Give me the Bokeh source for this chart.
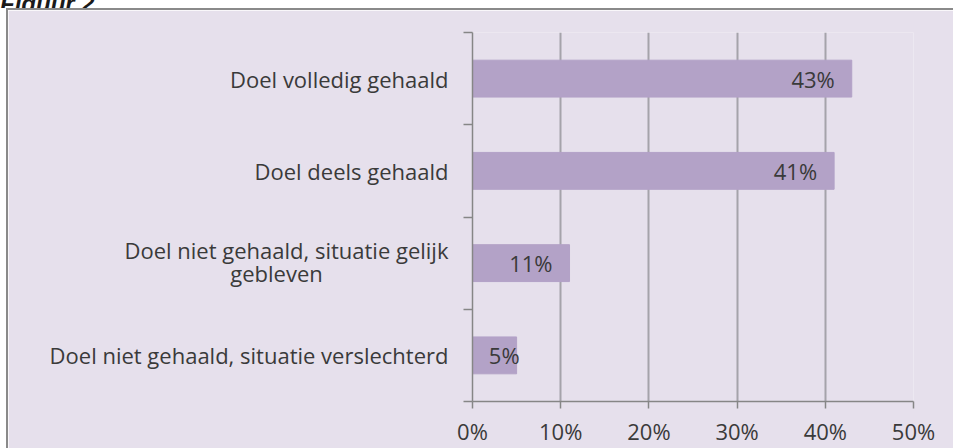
from bokeh.plotting import figure
from bokeh.models import Range1d, FixedTicker, ColumnDataSource, Div
from bokeh.layouts import column, row
from bokeh.core.properties import value
from bokeh.embed import file_html
from bokeh.resources import INLINE

# ---- data ----
categories = [
    "Doel volledig gehaald",
    "Doel deels gehaald",
    "Doel niet gehaald, situatie gelijk\ngebleven",
    "Doel niet gehaald, situatie verslechterd",
]
percentages = [43, 41, 11, 5]
x_ticks = [0, 10, 20, 30, 40, 50]
title_text = "Figuur 2"

BG = "#E6E0EC"
BAR = "#B3A2C7"
TXT = "#3a3a3a"
EDGE = "#8a8a8a"
FONT = "Open Sans"
FS = "22px"
LINE_GAP = 0.25      # vertical distance (data units) between lines of a wrapped category
PAD_SECOND_LINE = 22  # nbsp padding to centre the wrapped second line

n = len(categories)
centers = [n - i - 0.5 for i in range(n)]
labels = [f"{v}%" for v in percentages]
offsets = [-17 if v >= 8 else 3 for v in percentages]

# tick positions/labels for category names (wrapped names split over two ticks)
label_ticks, label_texts = [], []
for c, name in zip(centers, categories):
    parts = name.split("\n")
    if len(parts) == 1:
        label_ticks.append(c)
        label_texts.append(name)
    else:
        label_ticks += [c + LINE_GAP / 2 + 0.02, c - LINE_GAP / 2 + 0.02]
        label_texts += [parts[0], parts[1] + "\u00a0" * PAD_SECOND_LINE]

src = ColumnDataSource(dict(y=centers, v=percentages, lab=labels, off=offsets))

p = figure(width=945, height=438, output_backend="svg", toolbar_location=None,
           x_range=Range1d(0, 50), y_range=Range1d(0, n),
           min_border_left=464, min_border_right=40, min_border_top=22, min_border_bottom=46)
p.margin = (0, 0, 0, 0)
p.background_fill_color = BG
p.border_fill_color = BG
p.outline_line_color = None

p.hbar(y="y", left=0, right="v", height=0.4, color=BAR, source=src)
p.text(x="v", y="y", text="lab", x_offset="off", text_align="right", text_baseline="middle",
       text_font=value(FONT), text_font_size=FS, text_color=TXT, source=src)

# x axis
xa = p.xaxis[0]
xa.ticker = FixedTicker(ticks=x_ticks)
xa.major_label_overrides = {t: f"{t}%" for t in x_ticks}
xa.axis_line_color = "#868686"
xa.axis_line_width = 1.5
xa.major_tick_line_color = "#868686"
xa.major_tick_line_width = 1.5
xa.major_tick_out = 7
xa.major_tick_in = 0
xa.minor_tick_line_color = None
xa.major_label_text_font = FONT
xa.major_label_text_font_size = FS
xa.major_label_text_color = TXT
xa.major_label_standoff = 7

# y axis (category boundaries as minor ticks, names at band centres)
ya = p.yaxis[0]
ya.ticker = FixedTicker(ticks=label_ticks, minor_ticks=list(range(n + 1)))
ya.major_label_overrides = {t: s for t, s in zip(label_ticks, label_texts)}
ya.axis_line_color = "#868686"
ya.axis_line_width = 1.5
ya.major_tick_out = 0
ya.major_tick_in = 0
ya.major_tick_line_color = None
ya.minor_tick_line_color = "#868686"
ya.minor_tick_line_width = 1.5
ya.minor_tick_out = 9
ya.minor_tick_in = 0
ya.major_label_text_font = FONT
ya.major_label_text_font_size = FS
ya.major_label_text_color = TXT
ya.major_label_standoff = 15

p.xgrid.grid_line_color = "#a5a3aa"
p.xgrid.grid_line_width = 2
p.ygrid.grid_line_color = None

title = Div(
    text=('<div style="font-family: \'Liberation Sans\', Arial, sans-serif; font-style: italic; '
          'font-weight: bold; font-size: 24px; line-height: 24px; margin-top: -14px; '
          f'color: #1a1a1a; white-space: nowrap;">{title_text}</div>'),
    width=953, height=8, margin=(0, 0, 0, 0), styles={"overflow": "hidden"})

top_edge = Div(text="", width=947, height=2, margin=(0, 0, 0, 6),
               styles={"background-color": EDGE})
left_edge = Div(text="", width=2, height=438, margin=(0, 0, 0, 6),
                styles={"background-color": EDGE})

layout = column(title, top_edge, row(left_edge, p, spacing=0, margin=(0, 0, 0, 0)),
                spacing=0, margin=(0, 0, 0, 0))
open("out.html", "w").write(file_html(layout, INLINE))
